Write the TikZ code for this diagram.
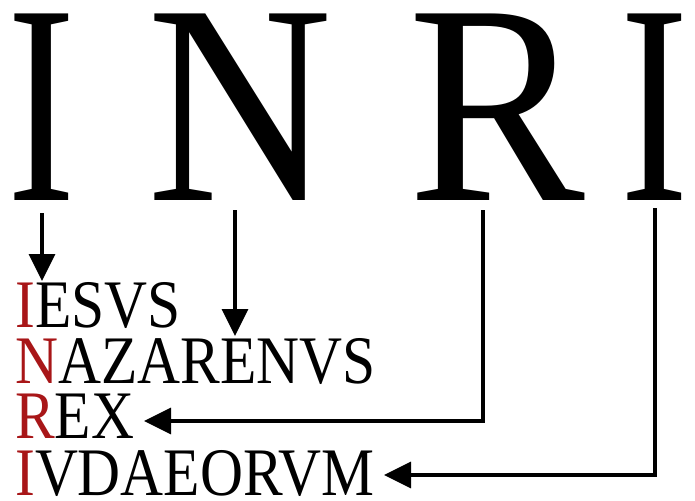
\documentclass[tikz,border=0pt]{standalone}
\usepackage{fontspec}
\setmainfont{Liberation Serif}
\newfontfamily\wordfont[FakeStretch=0.875]{Liberation Serif}
\newfontfamily\bigIfont[FakeStretch=0.72]{Liberation Serif}
\newfontfamily\bigNfont[FakeStretch=0.9]{Liberation Serif}
\newfontfamily\bigRfont[FakeStretch=0.93]{Liberation Serif}
\usetikzlibrary{arrows.meta}
\definecolor{inrired}{RGB}{168,22,24}
\tikzset{
  big/.style={inner sep=0pt, anchor=base},
  word/.style={inner sep=0pt, anchor=base west, font=\wordfont\fontsize{68}{68}\selectfont},
  arr/.style={line width=3.5pt, -{Triangle[length=27pt,width=26pt]}},
}
\newcommand{\rl}[1]{{\color{inrired}#1}}
\begin{document}
\begin{tikzpicture}[x=1pt,y=-1pt]
\useasboundingbox[fill=white] (0,0) rectangle (695,500);
% big letters
\node[big, font=\bigIfont\fontsize{285}{285}\selectfont] (I1) at (42,200) {I};
\node[big, font=\bigNfont\fontsize{285}{285}\selectfont] (N1) at (240,200) {N};
\node[big, font=\bigRfont\fontsize{285}{285}\selectfont] (R1) at (497,200) {R};
\node[big, font=\bigIfont\fontsize{285}{285}\selectfont] (I2) at (655,200) {I};
% words
\node[word] (w1) at (15,327) {\rl{I}ESVS};
\node[word] (w2) at (15,383) {\rl{N}AZARENVS};
\node[word] (w3) at (15,438) {\rl{R}EX};
\node[word] (w4) at (15,495) {\rl{I}VDAEORVM};
% connector ends
\coordinate (a1s) at (42,213);
\coordinate (a1e) at (42,281);
\coordinate (a2s) at (235,210);
\coordinate (a2e) at (235,336);
\coordinate (a3s) at (483,210);
\coordinate (a3c) at (483,421);
\coordinate (a3e) at (144,421);
\coordinate (a4s) at (655,208);
\coordinate (a4c) at (655,475);
\coordinate (a4e) at (384,475);
\draw[arr] (a1s) -- (a1e);
\draw[arr] (a2s) -- (a2e);
\draw[arr] (a3s) -- (a3c) -- (a3e);
\draw[arr] (a4s) -- (a4c) -- (a4e);
\end{tikzpicture}
\end{document}
